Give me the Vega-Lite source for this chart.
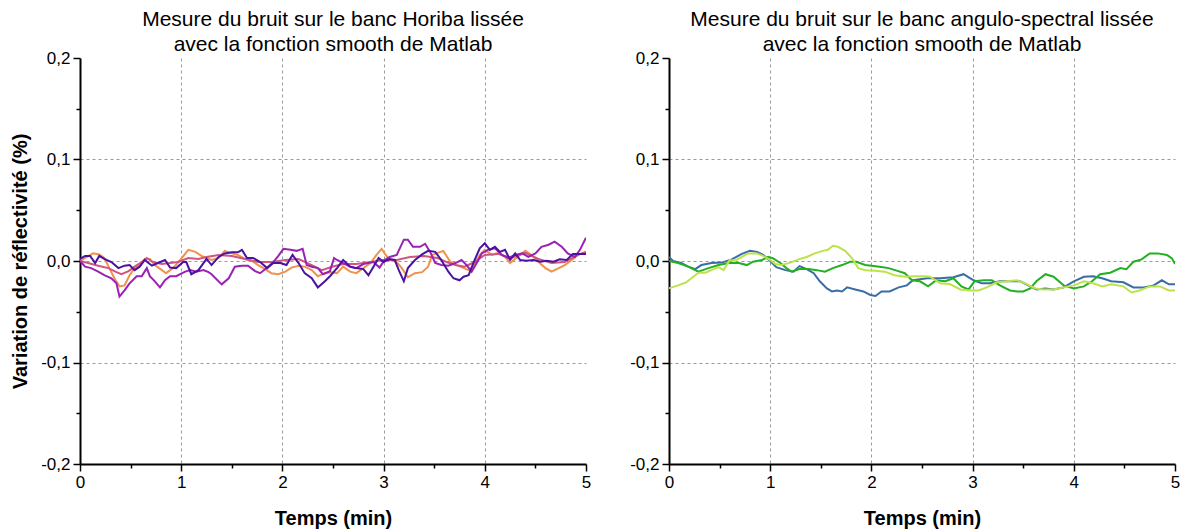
{
"$schema":"https://vega.github.io/schema/vega-lite/v6.json",
"background":"white",
"padding":{"left":10,"top":9,"right":5,"bottom":4},
"config":{
"font":"Liberation Sans",
"view":{"stroke":null},
"axis":{"domain":true,"ticks":true,"labelFlush":false,"domainColor":"#000000","domainWidth":2,"tickColor":"#000000","tickWidth":1.5,"tickSize":7,"labelFontSize":17,"labelColor":"black","labelFont":"Liberation Sans","titleFont":"Liberation Sans","titleFontSize":20,"titleFontWeight":"bold","titleColor":"black","gridColor":"#9a9a9a","gridDash":[3,3],"gridWidth":1,"labelPadding":3,"zindex":1},
"title":{"font":"Liberation Sans","fontSize":21,"fontWeight":"normal","color":"black","anchor":"middle","offset":-6,"lineHeight":25}
},
"datasets":{
"horiba":[
{"s":"a","t":0,"v":0},{"s":"a","t":0.05,"v":0.003},{"s":"a","t":0.13,"v":0.0075},{"s":"a","t":0.19,"v":0.0065},{"s":"a","t":0.24,"v":0.003},{"s":"a","t":0.29,"v":-0.007},{"s":"a","t":0.34,"v":-0.017},{"s":"a","t":0.39,"v":-0.025},{"s":"a","t":0.44,"v":-0.024},{"s":"a","t":0.49,"v":-0.014},{"s":"a","t":0.54,"v":-0.007},{"s":"a","t":0.59,"v":-0.004},{"s":"a","t":0.64,"v":0.002},{"s":"a","t":0.69,"v":0.002},{"s":"a","t":0.74,"v":-0.004},{"s":"a","t":0.81,"v":-0.009},{"s":"a","t":0.85,"v":-0.012},{"s":"a","t":0.92,"v":-0.007},{"s":"a","t":0.99,"v":0.001},{"s":"a","t":1.07,"v":0.011},{"s":"a","t":1.14,"v":0.009},{"s":"a","t":1.2,"v":0.005},{"s":"a","t":1.25,"v":0.003},{"s":"a","t":1.3,"v":0.001},{"s":"a","t":1.37,"v":0.003},{"s":"a","t":1.43,"v":0.01},{"s":"a","t":1.5,"v":0.0075},{"s":"a","t":1.56,"v":0.006},{"s":"a","t":1.63,"v":0.002},{"s":"a","t":1.7,"v":0},{"s":"a","t":1.76,"v":-0.004},{"s":"a","t":1.83,"v":-0.008},{"s":"a","t":1.89,"v":-0.012},{"s":"a","t":1.96,"v":-0.013},{"s":"a","t":2.03,"v":-0.0105},{"s":"a","t":2.09,"v":-0.0065},{"s":"a","t":2.16,"v":-0.0046},{"s":"a","t":2.22,"v":-0.0056},{"s":"a","t":2.29,"v":-0.009},{"s":"a","t":2.35,"v":-0.015},{"s":"a","t":2.42,"v":-0.012},{"s":"a","t":2.49,"v":-0.011},{"s":"a","t":2.54,"v":-0.012},{"s":"a","t":2.6,"v":-0.0056},{"s":"a","t":2.67,"v":-0.0105},{"s":"a","t":2.73,"v":-0.012},{"s":"a","t":2.8,"v":-0.007},{"s":"a","t":2.87,"v":-0.002},{"s":"a","t":2.93,"v":0.006},{"s":"a","t":2.98,"v":0.012},{"s":"a","t":3.01,"v":0.0075},{"s":"a","t":3.06,"v":0.001},{"s":"a","t":3.13,"v":-0.001},{"s":"a","t":3.18,"v":-0.007},{"s":"a","t":3.24,"v":-0.016},{"s":"a","t":3.31,"v":-0.012},{"s":"a","t":3.38,"v":-0.011},{"s":"a","t":3.44,"v":-0.0056},{"s":"a","t":3.48,"v":0.006},{"s":"a","t":3.52,"v":0.0075},{"s":"a","t":3.59,"v":0.01},{"s":"a","t":3.66,"v":-0.001},{"s":"a","t":3.72,"v":-0.004},{"s":"a","t":3.77,"v":-0.006},{"s":"a","t":3.84,"v":-0.009},{"s":"a","t":3.89,"v":-0.0056},{"s":"a","t":3.95,"v":0.006},{"s":"a","t":4.0,"v":0.011},{"s":"a","t":4.07,"v":0.006},{"s":"a","t":4.13,"v":0.008},{"s":"a","t":4.2,"v":0.004},{"s":"a","t":4.25,"v":-0.002},{"s":"a","t":4.31,"v":0.003},{"s":"a","t":4.4,"v":0.01},{"s":"a","t":4.46,"v":0.006},{"s":"a","t":4.53,"v":-0.001},{"s":"a","t":4.6,"v":-0.007},{"s":"a","t":4.66,"v":-0.0105},{"s":"a","t":4.73,"v":-0.007},{"s":"a","t":4.79,"v":-0.004},{"s":"a","t":4.86,"v":0.001},{"s":"a","t":4.92,"v":0.006},{"s":"a","t":5.0,"v":0.009},
{"s":"b","t":0,"v":0},{"s":"b","t":0.08,"v":-0.002},{"s":"b","t":0.18,"v":-0.0046},{"s":"b","t":0.28,"v":-0.007},{"s":"b","t":0.36,"v":-0.011},{"s":"b","t":0.41,"v":-0.013},{"s":"b","t":0.48,"v":-0.01},{"s":"b","t":0.54,"v":-0.0056},{"s":"b","t":0.61,"v":-0.001},{"s":"b","t":0.66,"v":0.003},{"s":"b","t":0.72,"v":-0.001},{"s":"b","t":0.81,"v":-0.003},{"s":"b","t":0.89,"v":-0.002},{"s":"b","t":0.97,"v":-0.001},{"s":"b","t":1.07,"v":0.003},{"s":"b","t":1.17,"v":0.002},{"s":"b","t":1.25,"v":0.004},{"s":"b","t":1.37,"v":0.006},{"s":"b","t":1.5,"v":0.005},{"s":"b","t":1.63,"v":0.002},{"s":"b","t":1.76,"v":-0.001},{"s":"b","t":1.89,"v":-0.001},{"s":"b","t":2.03,"v":0.001},{"s":"b","t":2.16,"v":0.002},{"s":"b","t":2.29,"v":-0.004},{"s":"b","t":2.39,"v":-0.009},{"s":"b","t":2.49,"v":-0.0056},{"s":"b","t":2.6,"v":-0.003},{"s":"b","t":2.73,"v":-0.003},{"s":"b","t":2.87,"v":-0.001},{"s":"b","t":3.0,"v":0.001},{"s":"b","t":3.13,"v":0.001},{"s":"b","t":3.26,"v":0.004},{"s":"b","t":3.4,"v":0.005},{"s":"b","t":3.53,"v":0.003},{"s":"b","t":3.62,"v":-0.001},{"s":"b","t":3.71,"v":-0.004},{"s":"b","t":3.8,"v":-0.0056},{"s":"b","t":3.9,"v":-0.001},{"s":"b","t":4.0,"v":0.006},{"s":"b","t":4.13,"v":0.007},{"s":"b","t":4.26,"v":0.003},{"s":"b","t":4.4,"v":0.008},{"s":"b","t":4.53,"v":0.002},{"s":"b","t":4.66,"v":-0.002},{"s":"b","t":4.79,"v":-0.001},{"s":"b","t":4.92,"v":0.006},{"s":"b","t":5.0,"v":0.009},
{"s":"c","t":0,"v":0},{"s":"c","t":0.05,"v":-0.0056},{"s":"c","t":0.11,"v":-0.007},{"s":"c","t":0.18,"v":-0.0105},{"s":"c","t":0.24,"v":-0.014},{"s":"c","t":0.31,"v":-0.017},{"s":"c","t":0.36,"v":-0.022},{"s":"c","t":0.39,"v":-0.035},{"s":"c","t":0.44,"v":-0.029},{"s":"c","t":0.49,"v":-0.022},{"s":"c","t":0.56,"v":-0.015},{"s":"c","t":0.61,"v":-0.015},{"s":"c","t":0.66,"v":-0.007},{"s":"c","t":0.69,"v":-0.015},{"s":"c","t":0.74,"v":-0.02},{"s":"c","t":0.79,"v":-0.026},{"s":"c","t":0.84,"v":-0.019},{"s":"c","t":0.89,"v":-0.015},{"s":"c","t":0.95,"v":-0.015},{"s":"c","t":1.04,"v":-0.0105},{"s":"c","t":1.09,"v":-0.009},{"s":"c","t":1.15,"v":-0.0105},{"s":"c","t":1.22,"v":-0.009},{"s":"c","t":1.27,"v":-0.011},{"s":"c","t":1.3,"v":-0.013},{"s":"c","t":1.4,"v":-0.023},{"s":"c","t":1.47,"v":-0.017},{"s":"c","t":1.53,"v":-0.0056},{"s":"c","t":1.6,"v":-0.0046},{"s":"c","t":1.66,"v":-0.0046},{"s":"c","t":1.73,"v":-0.01},{"s":"c","t":1.78,"v":-0.012},{"s":"c","t":1.85,"v":-0.0065},{"s":"c","t":1.91,"v":-0.001},{"s":"c","t":1.96,"v":0.005},{"s":"c","t":2.01,"v":0.012},{"s":"c","t":2.08,"v":0.011},{"s":"c","t":2.14,"v":0.01},{"s":"c","t":2.2,"v":0.012},{"s":"c","t":2.24,"v":-0.004},{"s":"c","t":2.29,"v":-0.0056},{"s":"c","t":2.35,"v":-0.007},{"s":"c","t":2.4,"v":-0.013},{"s":"c","t":2.47,"v":-0.01},{"s":"c","t":2.51,"v":0.003},{"s":"c","t":2.54,"v":0.001},{"s":"c","t":2.6,"v":-0.002},{"s":"c","t":2.67,"v":-0.0056},{"s":"c","t":2.73,"v":-0.007},{"s":"c","t":2.8,"v":-0.003},{"s":"c","t":2.9,"v":-0.001},{"s":"c","t":2.96,"v":-0.0065},{"s":"c","t":3.01,"v":0.001},{"s":"c","t":3.06,"v":0.004},{"s":"c","t":3.13,"v":0.006},{"s":"c","t":3.2,"v":0.021},{"s":"c","t":3.24,"v":0.021},{"s":"c","t":3.29,"v":0.014},{"s":"c","t":3.36,"v":0.014},{"s":"c","t":3.41,"v":0.017},{"s":"c","t":3.46,"v":0.009},{"s":"c","t":3.51,"v":-0.002},{"s":"c","t":3.57,"v":-0.004},{"s":"c","t":3.64,"v":-0.0046},{"s":"c","t":3.71,"v":-0.002},{"s":"c","t":3.77,"v":0.001},{"s":"c","t":3.82,"v":-0.004},{"s":"c","t":3.87,"v":-0.0105},{"s":"c","t":3.92,"v":-0.002},{"s":"c","t":3.97,"v":0.0075},{"s":"c","t":4.03,"v":0.011},{"s":"c","t":4.1,"v":0.0125},{"s":"c","t":4.17,"v":0.006},{"s":"c","t":4.23,"v":0.003},{"s":"c","t":4.3,"v":0.006},{"s":"c","t":4.37,"v":0.0075},{"s":"c","t":4.43,"v":0.004},{"s":"c","t":4.5,"v":0.0075},{"s":"c","t":4.56,"v":0.014},{"s":"c","t":4.63,"v":0.016},{"s":"c","t":4.69,"v":0.019},{"s":"c","t":4.76,"v":0.014},{"s":"c","t":4.82,"v":0.0075},{"s":"c","t":4.89,"v":0.004},{"s":"c","t":4.94,"v":0.011},{"s":"c","t":5.0,"v":0.023},
{"s":"d","t":0,"v":0.002},{"s":"d","t":0.05,"v":0.005},{"s":"d","t":0.1,"v":0.005},{"s":"d","t":0.15,"v":-0.002},{"s":"d","t":0.19,"v":0.005},{"s":"d","t":0.24,"v":0.002},{"s":"d","t":0.31,"v":-0.001},{"s":"d","t":0.38,"v":-0.007},{"s":"d","t":0.44,"v":-0.0046},{"s":"d","t":0.49,"v":-0.004},{"s":"d","t":0.54,"v":-0.009},{"s":"d","t":0.59,"v":-0.0056},{"s":"d","t":0.64,"v":0.001},{"s":"d","t":0.71,"v":-0.0046},{"s":"d","t":0.77,"v":-0.002},{"s":"d","t":0.84,"v":0.001},{"s":"d","t":0.89,"v":-0.0065},{"s":"d","t":0.95,"v":-0.007},{"s":"d","t":1.02,"v":-0.001},{"s":"d","t":1.05,"v":-0.001},{"s":"d","t":1.1,"v":-0.013},{"s":"d","t":1.17,"v":-0.009},{"s":"d","t":1.25,"v":0.002},{"s":"d","t":1.3,"v":-0.004},{"s":"d","t":1.37,"v":0.004},{"s":"d","t":1.43,"v":0.0075},{"s":"d","t":1.5,"v":0.0085},{"s":"d","t":1.56,"v":0.0085},{"s":"d","t":1.6,"v":0.011},{"s":"d","t":1.65,"v":0.003},{"s":"d","t":1.71,"v":0.003},{"s":"d","t":1.78,"v":-0.001},{"s":"d","t":1.85,"v":-0.007},{"s":"d","t":1.91,"v":-0.002},{"s":"d","t":1.98,"v":-0.002},{"s":"d","t":2.04,"v":-0.004},{"s":"d","t":2.1,"v":0.006},{"s":"d","t":2.16,"v":-0.002},{"s":"d","t":2.22,"v":-0.012},{"s":"d","t":2.29,"v":-0.017},{"s":"d","t":2.35,"v":-0.026},{"s":"d","t":2.42,"v":-0.02},{"s":"d","t":2.47,"v":-0.015},{"s":"d","t":2.54,"v":-0.007},{"s":"d","t":2.6,"v":0.001},{"s":"d","t":2.67,"v":-0.0056},{"s":"d","t":2.73,"v":-0.007},{"s":"d","t":2.8,"v":-0.008},{"s":"d","t":2.85,"v":-0.014},{"s":"d","t":2.9,"v":-0.0056},{"s":"d","t":2.95,"v":0.003},{"s":"d","t":3.0,"v":-0.001},{"s":"d","t":3.06,"v":0.002},{"s":"d","t":3.11,"v":0.001},{"s":"d","t":3.15,"v":-0.009},{"s":"d","t":3.2,"v":-0.02},{"s":"d","t":3.24,"v":-0.007},{"s":"d","t":3.31,"v":0.001},{"s":"d","t":3.38,"v":0.0065},{"s":"d","t":3.44,"v":0.01},{"s":"d","t":3.51,"v":0.009},{"s":"d","t":3.57,"v":0.001},{"s":"d","t":3.64,"v":-0.0105},{"s":"d","t":3.69,"v":-0.017},{"s":"d","t":3.75,"v":-0.019},{"s":"d","t":3.79,"v":-0.0155},{"s":"d","t":3.84,"v":-0.014},{"s":"d","t":3.9,"v":0.001},{"s":"d","t":3.95,"v":0.0125},{"s":"d","t":4.0,"v":0.0175},{"s":"d","t":4.05,"v":0.011},{"s":"d","t":4.1,"v":0.014},{"s":"d","t":4.15,"v":0.009},{"s":"d","t":4.2,"v":0.011},{"s":"d","t":4.25,"v":0.001},{"s":"d","t":4.3,"v":0.0075},{"s":"d","t":4.35,"v":0.001},{"s":"d","t":4.41,"v":0.0003},{"s":"d","t":4.48,"v":0.001},{"s":"d","t":4.55,"v":-0.0007},{"s":"d","t":4.61,"v":0.0003},{"s":"d","t":4.68,"v":-0.0007},{"s":"d","t":4.74,"v":0.0016},{"s":"d","t":4.81,"v":0.001},{"s":"d","t":4.87,"v":0.007},{"s":"d","t":4.94,"v":0.007},{"s":"d","t":5.0,"v":0.007}
],
"angulo":[
{"s":"e","t":0,"v":0.004},{"s":"e","t":0.04,"v":0},{"s":"e","t":0.12,"v":-0.002},{"s":"e","t":0.19,"v":-0.0056},{"s":"e","t":0.26,"v":-0.008},{"s":"e","t":0.32,"v":-0.004},{"s":"e","t":0.42,"v":-0.002},{"s":"e","t":0.52,"v":-0.0016},{"s":"e","t":0.62,"v":0.0016},{"s":"e","t":0.72,"v":0.007},{"s":"e","t":0.8,"v":0.01},{"s":"e","t":0.87,"v":0.009},{"s":"e","t":0.93,"v":0.006},{"s":"e","t":1.0,"v":0},{"s":"e","t":1.06,"v":-0.006},{"s":"e","t":1.15,"v":-0.009},{"s":"e","t":1.23,"v":-0.0105},{"s":"e","t":1.29,"v":-0.005},{"s":"e","t":1.36,"v":-0.008},{"s":"e","t":1.43,"v":-0.012},{"s":"e","t":1.49,"v":-0.02},{"s":"e","t":1.56,"v":-0.027},{"s":"e","t":1.61,"v":-0.03},{"s":"e","t":1.66,"v":-0.029},{"s":"e","t":1.71,"v":-0.03},{"s":"e","t":1.76,"v":-0.026},{"s":"e","t":1.84,"v":-0.028},{"s":"e","t":1.92,"v":-0.03},{"s":"e","t":1.99,"v":-0.0335},{"s":"e","t":2.04,"v":-0.0345},{"s":"e","t":2.1,"v":-0.03},{"s":"e","t":2.18,"v":-0.03},{"s":"e","t":2.27,"v":-0.026},{"s":"e","t":2.35,"v":-0.024},{"s":"e","t":2.41,"v":-0.019},{"s":"e","t":2.48,"v":-0.018},{"s":"e","t":2.55,"v":-0.017},{"s":"e","t":2.68,"v":-0.017},{"s":"e","t":2.81,"v":-0.016},{"s":"e","t":2.91,"v":-0.013},{"s":"e","t":3.01,"v":-0.019},{"s":"e","t":3.09,"v":-0.022},{"s":"e","t":3.17,"v":-0.022},{"s":"e","t":3.27,"v":-0.02},{"s":"e","t":3.37,"v":-0.02},{"s":"e","t":3.47,"v":-0.02},{"s":"e","t":3.57,"v":-0.025},{"s":"e","t":3.63,"v":-0.028},{"s":"e","t":3.72,"v":-0.027},{"s":"e","t":3.8,"v":-0.028},{"s":"e","t":3.9,"v":-0.026},{"s":"e","t":4.0,"v":-0.02},{"s":"e","t":4.1,"v":-0.0155},{"s":"e","t":4.19,"v":-0.015},{"s":"e","t":4.28,"v":-0.017},{"s":"e","t":4.37,"v":-0.02},{"s":"e","t":4.49,"v":-0.021},{"s":"e","t":4.59,"v":-0.026},{"s":"e","t":4.69,"v":-0.026},{"s":"e","t":4.79,"v":-0.024},{"s":"e","t":4.87,"v":-0.019},{"s":"e","t":4.94,"v":-0.023},{"s":"e","t":5.0,"v":-0.023},
{"s":"f","t":0,"v":0},{"s":"f","t":0.09,"v":-0.002},{"s":"f","t":0.19,"v":-0.0056},{"s":"f","t":0.29,"v":-0.0105},{"s":"f","t":0.39,"v":-0.007},{"s":"f","t":0.49,"v":-0.004},{"s":"f","t":0.59,"v":-0.002},{"s":"f","t":0.69,"v":-0.002},{"s":"f","t":0.77,"v":-0.004},{"s":"f","t":0.83,"v":-0.0007},{"s":"f","t":0.92,"v":0.001},{"s":"f","t":0.98,"v":0.004},{"s":"f","t":1.03,"v":0.0026},{"s":"f","t":1.1,"v":-0.002},{"s":"f","t":1.16,"v":-0.007},{"s":"f","t":1.21,"v":-0.0105},{"s":"f","t":1.29,"v":-0.008},{"s":"f","t":1.38,"v":-0.008},{"s":"f","t":1.46,"v":-0.009},{"s":"f","t":1.54,"v":-0.0105},{"s":"f","t":1.62,"v":-0.007},{"s":"f","t":1.71,"v":-0.004},{"s":"f","t":1.79,"v":-0.0007},{"s":"f","t":1.85,"v":-0.0007},{"s":"f","t":1.94,"v":-0.004},{"s":"f","t":2.02,"v":-0.005},{"s":"f","t":2.1,"v":-0.006},{"s":"f","t":2.17,"v":-0.007},{"s":"f","t":2.25,"v":-0.0095},{"s":"f","t":2.33,"v":-0.012},{"s":"f","t":2.4,"v":-0.019},{"s":"f","t":2.48,"v":-0.02},{"s":"f","t":2.56,"v":-0.025},{"s":"f","t":2.64,"v":-0.019},{"s":"f","t":2.73,"v":-0.02},{"s":"f","t":2.81,"v":-0.017},{"s":"f","t":2.89,"v":-0.025},{"s":"f","t":2.96,"v":-0.028},{"s":"f","t":3.02,"v":-0.02},{"s":"f","t":3.11,"v":-0.019},{"s":"f","t":3.19,"v":-0.019},{"s":"f","t":3.27,"v":-0.024},{"s":"f","t":3.37,"v":-0.029},{"s":"f","t":3.44,"v":-0.03},{"s":"f","t":3.5,"v":-0.03},{"s":"f","t":3.57,"v":-0.027},{"s":"f","t":3.63,"v":-0.02},{"s":"f","t":3.72,"v":-0.013},{"s":"f","t":3.8,"v":-0.0155},{"s":"f","t":3.9,"v":-0.024},{"s":"f","t":4.0,"v":-0.027},{"s":"f","t":4.1,"v":-0.025},{"s":"f","t":4.18,"v":-0.02},{"s":"f","t":4.26,"v":-0.013},{"s":"f","t":4.36,"v":-0.0115},{"s":"f","t":4.46,"v":-0.007},{"s":"f","t":4.52,"v":-0.008},{"s":"f","t":4.59,"v":-0.0007},{"s":"f","t":4.67,"v":0.0016},{"s":"f","t":4.75,"v":0.0075},{"s":"f","t":4.83,"v":0.0075},{"s":"f","t":4.92,"v":0.006},{"s":"f","t":4.97,"v":0.0026},{"s":"f","t":5.0,"v":-0.003},
{"s":"g","t":0,"v":-0.027},{"s":"g","t":0.09,"v":-0.024},{"s":"g","t":0.17,"v":-0.021},{"s":"g","t":0.24,"v":-0.0155},{"s":"g","t":0.29,"v":-0.0115},{"s":"g","t":0.36,"v":-0.0115},{"s":"g","t":0.42,"v":-0.009},{"s":"g","t":0.49,"v":-0.006},{"s":"g","t":0.54,"v":-0.009},{"s":"g","t":0.6,"v":0.001},{"s":"g","t":0.65,"v":0.0003},{"s":"g","t":0.72,"v":0.004},{"s":"g","t":0.78,"v":0.0075},{"s":"g","t":0.87,"v":0.0075},{"s":"g","t":0.93,"v":0.005},{"s":"g","t":1.0,"v":0.001},{"s":"g","t":1.05,"v":-0.003},{"s":"g","t":1.11,"v":-0.004},{"s":"g","t":1.2,"v":-0.0016},{"s":"g","t":1.28,"v":0.0016},{"s":"g","t":1.36,"v":0.004},{"s":"g","t":1.44,"v":0.0075},{"s":"g","t":1.52,"v":0.01},{"s":"g","t":1.57,"v":0.011},{"s":"g","t":1.62,"v":0.015},{"s":"g","t":1.67,"v":0.014},{"s":"g","t":1.74,"v":0.01},{"s":"g","t":1.81,"v":0.0026},{"s":"g","t":1.87,"v":-0.007},{"s":"g","t":1.94,"v":-0.009},{"s":"g","t":2.04,"v":-0.0095},{"s":"g","t":2.13,"v":-0.0105},{"s":"g","t":2.23,"v":-0.014},{"s":"g","t":2.33,"v":-0.0155},{"s":"g","t":2.43,"v":-0.015},{"s":"g","t":2.53,"v":-0.015},{"s":"g","t":2.58,"v":-0.0155},{"s":"g","t":2.68,"v":-0.022},{"s":"g","t":2.78,"v":-0.023},{"s":"g","t":2.88,"v":-0.028},{"s":"g","t":2.98,"v":-0.029},{"s":"g","t":3.06,"v":-0.029},{"s":"g","t":3.14,"v":-0.026},{"s":"g","t":3.24,"v":-0.021},{"s":"g","t":3.34,"v":-0.02},{"s":"g","t":3.44,"v":-0.019},{"s":"g","t":3.54,"v":-0.023},{"s":"g","t":3.62,"v":-0.027},{"s":"g","t":3.7,"v":-0.028},{"s":"g","t":3.8,"v":-0.028},{"s":"g","t":3.9,"v":-0.026},{"s":"g","t":4.0,"v":-0.024},{"s":"g","t":4.1,"v":-0.02},{"s":"g","t":4.19,"v":-0.022},{"s":"g","t":4.28,"v":-0.025},{"s":"g","t":4.37,"v":-0.023},{"s":"g","t":4.49,"v":-0.025},{"s":"g","t":4.57,"v":-0.031},{"s":"g","t":4.65,"v":-0.029},{"s":"g","t":4.75,"v":-0.025},{"s":"g","t":4.85,"v":-0.025},{"s":"g","t":4.94,"v":-0.029},{"s":"g","t":5.0,"v":-0.029}
]
},
"spacing":38,
"resolve":{"scale":{"color":"independent"}},
"hconcat":[
{
"title":{"text":["Mesure du bruit sur le banc Horiba lissée","avec la fonction smooth de Matlab"]},
"width":506,"height":406,
"data":{"name":"horiba"},
"mark":{"type":"line","strokeWidth":2,"clip":true},
"encoding":{
"x":{"field":"t","type":"quantitative","scale":{"domain":[0,5],"nice":false,"zero":false},
"axis":{"title":"Temps (min)","titlePadding":18,"values":[0,0.5,1,1.5,2,2.5,3,3.5,4,4.5,5],"labelExpr":"datum.value % 1 ? '' : format(datum.value, 'd')","tickSize":{"condition":{"test":"datum.value % 1 != 0","value":4},"value":7},"gridOpacity":{"condition":{"test":"datum.value % 1 != 0 || datum.value == 0 || datum.value == 5","value":0},"value":1}}},
"y":{"field":"v","type":"quantitative","scale":{"domain":[-0.2,0.2],"nice":false,"zero":false},
"axis":{"title":"Variation de réflectivité (%)","titlePadding":10,"values":[-0.2,-0.15,-0.1,-0.05,0,0.05,0.1,0.15,0.2],"labelExpr":"abs(round(datum.value*20)) % 2 == 1 ? '' : (datum.value < -0.001 ? '-' : '') + replace(format(abs(datum.value), '.1f'), '.', ',')","tickSize":{"condition":{"test":"abs(round(datum.value*20)) % 2 == 1","value":4},"value":7},"gridOpacity":{"condition":{"test":"abs(round(datum.value*20)) % 2 == 1 || abs(datum.value) > 0.15","value":0},"value":1}}},
"color":{"field":"s","type":"nominal","legend":null,"scale":{"domain":["a","b","c","d"],"range":["#f0914d","#cf577f","#9a22b3","#4a12a0"]}}
}
},
{
"title":{"text":["Mesure du bruit sur le banc angulo-spectral lissée","avec la fonction smooth de Matlab"]},
"width":506,"height":406,
"data":{"name":"angulo"},
"mark":{"type":"line","strokeWidth":2,"clip":true},
"encoding":{
"x":{"field":"t","type":"quantitative","scale":{"domain":[0,5],"nice":false,"zero":false},
"axis":{"title":"Temps (min)","titlePadding":18,"values":[0,0.5,1,1.5,2,2.5,3,3.5,4,4.5,5],"labelExpr":"datum.value % 1 ? '' : format(datum.value, 'd')","tickSize":{"condition":{"test":"datum.value % 1 != 0","value":4},"value":7},"gridOpacity":{"condition":{"test":"datum.value % 1 != 0 || datum.value == 0 || datum.value == 5","value":0},"value":1}}},
"y":{"field":"v","type":"quantitative","scale":{"domain":[-0.2,0.2],"nice":false,"zero":false},
"axis":{"title":null,"values":[-0.2,-0.15,-0.1,-0.05,0,0.05,0.1,0.15,0.2],"labelExpr":"abs(round(datum.value*20)) % 2 == 1 ? '' : (datum.value < -0.001 ? '-' : '') + replace(format(abs(datum.value), '.1f'), '.', ',')","tickSize":{"condition":{"test":"abs(round(datum.value*20)) % 2 == 1","value":4},"value":7},"gridOpacity":{"condition":{"test":"abs(round(datum.value*20)) % 2 == 1 || abs(datum.value) > 0.15","value":0},"value":1}}},
"color":{"field":"s","type":"nominal","legend":null,"scale":{"domain":["e","f","g"],"range":["#3a6da6","#22b022","#bde24a"]}}
}
}
]
}
